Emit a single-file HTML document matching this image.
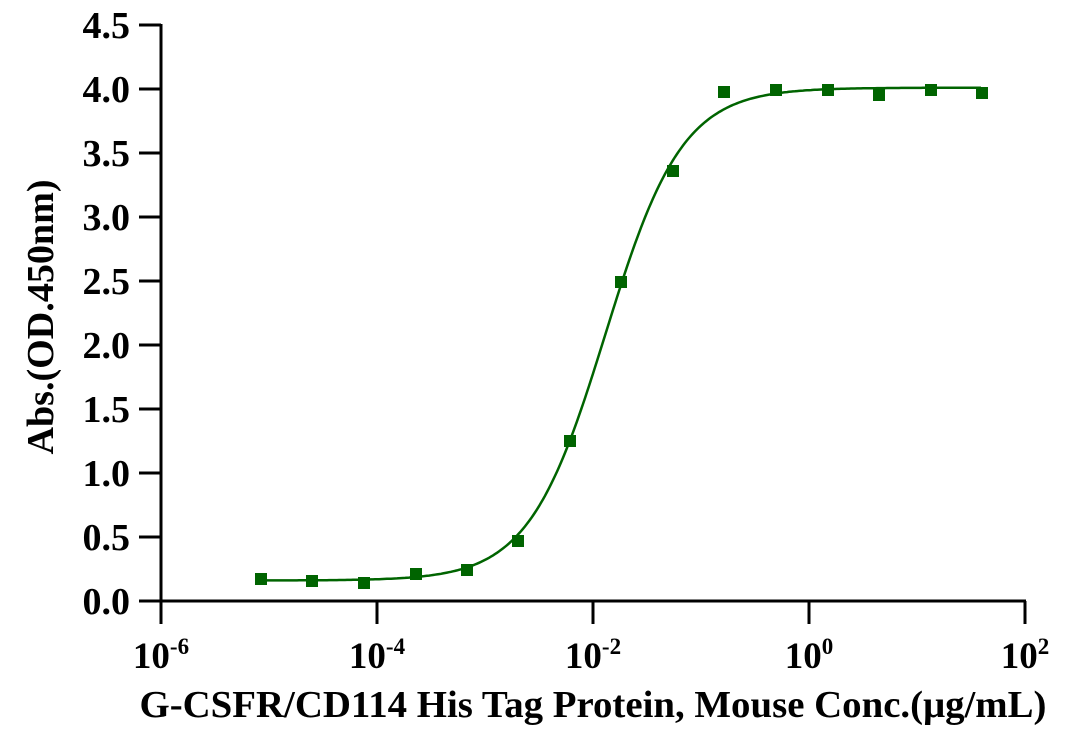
<!DOCTYPE html>
<html><head><meta charset="utf-8"><style>
body{margin:0;background:#fff;}
text{font-family:"Liberation Serif",serif;font-weight:bold;fill:#000;}
</style></head><body>
<svg id="s" width="1077" height="736" xmlns="http://www.w3.org/2000/svg">
<g stroke="#000" stroke-width="3" fill="none">
<line x1="161" y1="24" x2="161" y2="602"/>
<line x1="160" y1="601" x2="1026" y2="601"/>
<line x1="139" y1="25" x2="161" y2="25"/>
<line x1="139" y1="89" x2="161" y2="89"/>
<line x1="139" y1="153" x2="161" y2="153"/>
<line x1="139" y1="217" x2="161" y2="217"/>
<line x1="139" y1="281" x2="161" y2="281"/>
<line x1="139" y1="345" x2="161" y2="345"/>
<line x1="139" y1="409" x2="161" y2="409"/>
<line x1="139" y1="473" x2="161" y2="473"/>
<line x1="139" y1="537" x2="161" y2="537"/>
<line x1="139" y1="601" x2="161" y2="601"/>
<line x1="161" y1="601" x2="161" y2="624"/>
<line x1="377" y1="601" x2="377" y2="624"/>
<line x1="593" y1="601" x2="593" y2="624"/>
<line x1="809" y1="601" x2="809" y2="624"/>
<line x1="1025" y1="601" x2="1025" y2="624"/>
</g>
<g font-size="38" text-anchor="end">
<text x="130" y="38">4.5</text><text x="130" y="102">4.0</text><text x="130" y="166">3.5</text>
<text x="130" y="230">3.0</text><text x="130" y="294">2.5</text><text x="130" y="358">2.0</text>
<text x="130" y="422">1.5</text><text x="130" y="486">1.0</text><text x="130" y="550">0.5</text>
<text x="130" y="614">0.0</text>
</g>
<g font-size="37" text-anchor="middle">
<text x="161" y="668">10<tspan font-size="23" dy="-14">-6</tspan></text>
<text x="377" y="668">10<tspan font-size="23" dy="-14">-4</tspan></text>
<text x="593" y="668">10<tspan font-size="23" dy="-14">-2</tspan></text>
<text x="809" y="668">10<tspan font-size="23" dy="-14">0</tspan></text>
<text x="1025" y="668">10<tspan font-size="23" dy="-14">2</tspan></text>
</g>
<text x="593" y="717" font-size="38" text-anchor="middle" textLength="907" lengthAdjust="spacingAndGlyphs">G-CSFR/CD114 His Tag Protein, Mouse Conc.(μg/mL)</text>
<text transform="translate(53,317) rotate(-90)" font-size="38" text-anchor="middle" textLength="275" lengthAdjust="spacingAndGlyphs">Abs.(OD.450nm)</text>
<path id="c" fill="none" stroke="#006400" stroke-width="2.5"/>
<g fill="#006400" id="pts"></g>
</svg>
<script>
var pts=[[261,579],[312,581],[364,583],[416,574],[467,570],[518,541],[570,441],[621,282],[673,171],[724,92],[776,90],[828,90],[879,95],[931,90],[982,93]];
var g=document.getElementById('pts'),h='';
pts.forEach(function(p){h+='<rect x="'+(p[0]-6)+'" y="'+(p[1]-6)+'" width="12" height="12"/>';});
g.innerHTML=h;
var d='';
for(var px=261;px<=982;px+=2){var lx=-6+(px-161)/108;var y=0.16+(4.01-0.16)/(1+Math.pow(10,(-1.885-lx)*1.22));var py=601-y*128;d+=(d?'L':'M')+px+','+py.toFixed(1);}
document.getElementById('c').setAttribute('d',d);
</script>
</body></html>
